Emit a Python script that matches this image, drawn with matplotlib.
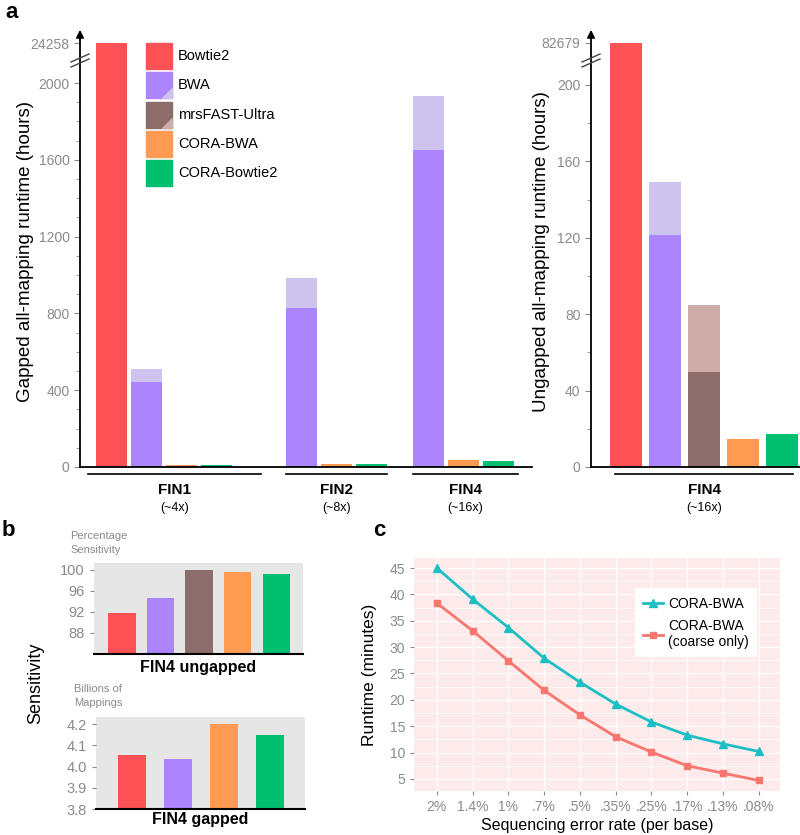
import numpy as np
import matplotlib
matplotlib.use("Agg")
import matplotlib.pyplot as plt
from matplotlib.patches import Rectangle, Polygon
from matplotlib.lines import Line2D

plt.rcParams["font.family"] = ["Liberation Sans", "DejaVu Sans"]

W, H = 800, 835
GRAY = "#8a8a8a"

# ---- data --------------------------------------------------------------
tools = ["Bowtie2", "BWA", "mrsFAST-Ultra", "CORA-BWA", "CORA-Bowtie2"]
dark = ["#FC5155", "#AC84FB", "#8C6D6B", "#FF9A52", "#00BF6F"]
light = [None, "#CDC3EE", "#CEACAA", None, None]

# panel a, gapped (hours); nan = not run
gapped_groups = ["FIN1", "FIN2", "FIN4"]
gapped_cov = ["(~4x)", "(~8x)", "(~16x)"]
gapped_bowtie2 = [24258, np.nan, np.nan]
gapped_bwa_total = [509, 982, 1935]
gapped_bwa_base = [441, 826, 1653]
gapped_cora_bwa = [10, 17, 34]
gapped_cora_bowtie2 = [12, 16, 31]

# panel a, ungapped FIN4 (hours), one value per tool
ungapped_total = [82679, 149, 85, 14.4, 17.4]
ungapped_base = [82679, 121.5, 49.5, 14.4, 17.4]

# panel b
sens_ungapped = [91.8, 94.7, 100.0, 99.6, 99.3]
sens_gapped_tools = ["Bowtie2", "BWA", "CORA-BWA", "CORA-Bowtie2"]
sens_gapped = [4.052, 4.037, 4.200, 4.148]

# panel c
error_rates = ["2%", "1.4%", "1%", ".7%", ".5%", ".35%", ".25%", ".17%", ".13%", ".08%"]
runtime_full = [45.0, 39.1, 33.7, 27.9, 23.35, 19.2, 15.8, 13.3, 11.65, 10.2]
runtime_coarse = [38.35, 33.1, 27.4, 21.8, 17.15, 13.0, 10.1, 7.5, 6.1, 4.7]


def box(x0, y0, x1, y1):
    return [x0 / W, 1 - y1 / H, (x1 - x0) / W, (y1 - y0) / H]


def px(x, y):
    return x / W, 1 - y / H


def make_break(b, pos_big, big):
    # piecewise-linear scale: values above b are squeezed
    k = (pos_big - b) / (big - b)

    def fwd(v):
        v = np.asarray(v, float)
        return np.where(v <= b, v, b + (v - b) * k)

    def inv(u):
        u = np.asarray(u, float)
        return np.where(u <= b, u, b + (u - b) / k)
    return fwd, inv


def style_runtime_axis(ax):
    for s in ["top", "right"]:
        ax.spines[s].set_visible(False)
    ax.spines["left"].set_linewidth(1.3)
    ax.spines["bottom"].set_linewidth(1.3)
    ax.tick_params(axis="x", bottom=False, labelbottom=False)
    ax.tick_params(axis="y", which="both", colors=GRAY, labelsize=10, length=4)
    ax.tick_params(axis="y", which="minor", length=3)


def axis_decor(ax, x_px, top_px):
    ax.annotate("", xy=px(x_px, top_px - 9), xytext=px(x_px, top_px + 2),
                xycoords="figure fraction",
                arrowprops=dict(arrowstyle="-|>", color="black", lw=1.3,
                                mutation_scale=11))
    for yc in (58, 63):
        x0, y0 = px(x_px - 9, yc + 4)
        x1, y1 = px(x_px + 9, yc - 4)
        fig.add_artist(Line2D([x0, x1], [y0, y1], color="#444444", lw=1.0))


fig = plt.figure(figsize=(W / 100, H / 100), dpi=100)

# ---- panel a: gapped ---------------------------------------------------
ax1 = fig.add_axes(box(80, 36, 532, 467))
f1, i1 = make_break(2120, 2208, 24258)
ax1.set_yscale("function", functions=(f1, i1))
group_start = [0, 5.43, 9.04]
series = [(0, gapped_bowtie2, None), (1, gapped_bwa_total, gapped_bwa_base),
          (3, gapped_cora_bwa, None), (4, gapped_cora_bowtie2, None)]
for g, start in enumerate(group_start):
    slot = 0
    for ti, vals, base in series:
        if np.isnan(vals[g]):
            continue
        x = start + slot
        if base is not None:
            ax1.bar(x, vals[g], 0.89, color=light[ti])
            ax1.bar(x, base[g], 0.89, color=dark[ti])
        else:
            ax1.bar(x, vals[g], 0.89, color=dark[ti])
        slot += 1
ax1.set_xlim(-0.9, 12.0)
ax1.set_ylim(0, float(i1(2245)))
ax1.set_yticks([0, 400, 800, 1200, 1600, 2000, 24258])
ax1.set_yticklabels(["0", "400", "800", "1200", "1600", "2000", "24258"])
ax1.set_yticks([v for v in range(100, 2001, 100) if v % 400], minor=True)
style_runtime_axis(ax1)
ax1.set_ylabel("Gapped all-mapping runtime (hours)", fontsize=13.5)
ax1.yaxis.set_label_coords(-0.102, 0.5)
trans = ax1.get_xaxis_transform()
line_ext = [(-0.67, 4.27), (4.99, 7.87), (8.59, 11.59)]
for (a, b), name, cov in zip(line_ext, gapped_groups, gapped_cov):
    ax1.plot([a, b], [-0.016, -0.016], transform=trans, color="black",
             lw=1.2, clip_on=False)
    c = (a + b) / 2
    ax1.text(c, -0.054, name, transform=trans, ha="center", va="center",
             fontsize=11, fontweight="bold")
    ax1.text(c, -0.096, cov, transform=trans, ha="center", va="center",
             fontsize=9)
axis_decor(ax1, 80, 36)

# legend of panel a
for i, (name, col) in enumerate(zip(tools, dark)):
    top = 43 + i * 29.3
    x0, y0 = px(146, top + 26)
    fig.add_artist(Rectangle((x0, y0), 26 / W, 26 / H, color=col,
                             transform=fig.transFigure))
    if light[i]:
        pts = [px(172, top + 16), px(172, top + 26), px(162, top + 26)]
        fig.add_artist(Polygon(pts, closed=True, color=light[i],
                               transform=fig.transFigure))
    fig.text(*px(178, top + 13), name, fontsize=10.5, va="center", ha="left")

# ---- panel a: ungapped -------------------------------------------------
ax2 = fig.add_axes(box(591, 36, 800, 467))
f2, i2 = make_break(211, 222, 82679)
ax2.set_yscale("function", functions=(f2, i2))
xu = np.arange(len(tools))
ax2.bar(xu, ungapped_total, 0.83,
        color=[l if l else d for l, d in zip(light, dark)])
ax2.bar(xu, ungapped_base, 0.83, color=dark)
ax2.set_xlim(-0.9, 4.46)
ax2.set_ylim(0, float(i2(225.6)))
ax2.set_yticks([0, 40, 80, 120, 160, 200, 82679])
ax2.set_yticklabels(["0", "40", "80", "120", "160", "200", "82679"])
ax2.set_yticks([20, 60, 100, 140, 180], minor=True)
style_runtime_axis(ax2)
ax2.set_ylabel("Ungapped all-mapping runtime (hours)", fontsize=13.5)
ax2.yaxis.set_label_coords(-0.196, 0.5)
t2 = ax2.get_xaxis_transform()
ax2.plot([-0.28, 4.28], [-0.016, -0.016], transform=t2, color="black",
         lw=1.2, clip_on=False)
ax2.text(2.0, -0.054, "FIN4", transform=t2, ha="center", va="center",
         fontsize=11, fontweight="bold")
ax2.text(2.0, -0.096, "(~16x)", transform=t2, ha="center", va="center",
         fontsize=9)
axis_decor(ax2, 591, 36)


# ---- panel b -----------------------------------------------------------
def style_b(ax):
    ax.set_facecolor("#E6E6E6")
    for s in ["top", "right", "left"]:
        ax.spines[s].set_visible(False)
    ax.spines["bottom"].set_linewidth(1.5)
    ax.tick_params(axis="x", bottom=False, labelbottom=False)
    ax.tick_params(axis="y", colors=GRAY, labelsize=10.5, length=3)


axb1 = fig.add_axes(box(94, 563, 303, 654))
axb1.bar(np.arange(len(tools)), sens_ungapped, 0.71, color=dark)
axb1.set_xlim(-0.725, 4.69)
axb1.set_ylim(84, 101.3)
axb1.set_yticks([88, 92, 96, 100])
style_b(axb1)
axb1.set_xlabel("FIN4 ungapped", fontsize=11.5, fontweight="bold", labelpad=4)

axb2 = fig.add_axes(box(96, 717, 305, 809))
gcols = [dark[tools.index(t)] for t in sens_gapped_tools]
axb2.bar(np.arange(len(sens_gapped_tools)), sens_gapped, 0.61, color=gcols)
axb2.set_xlim(-0.78, 3.76)
axb2.set_ylim(3.8, 4.233)
axb2.set_yticks([3.8, 3.9, 4.0, 4.1, 4.2])
axb2.set_yticklabels(["3.8", "3.9", "4.0", "4.1", "4.2"])
style_b(axb2)
axb2.set_xlabel("FIN4 gapped", fontsize=11.5, fontweight="bold", labelpad=2)

fig.text(*px(70, 543), "Percentage\nSensitivity", fontsize=8, color=GRAY,
         ha="left", va="center", linespacing=1.5)
fig.text(*px(74, 696), "Billions of\nMappings", fontsize=8, color=GRAY,
         ha="left", va="center", linespacing=1.5)
fig.text(*px(36, 683), "Sensitivity", fontsize=13, rotation=90,
         ha="center", va="center")

# ---- panel c -----------------------------------------------------------
axc = fig.add_axes(box(414, 558, 780, 791))
axc.set_facecolor("#FDEBEB")
xc = np.arange(len(error_rates))
axc.plot(xc, runtime_full, color="#1DBFC4", lw=2, marker="^", ms=6,
         label="CORA-BWA")
axc.plot(xc, runtime_coarse, color="#F8766D", lw=2, marker="s", ms=4.5,
         label="CORA-BWA\n(coarse only)")
axc.set_xlim(-0.64, 9.6)
axc.set_ylim(2.7, 46.9)
axc.set_xticks(xc)
axc.set_xticklabels(error_rates)
axc.set_yticks([5, 10, 15, 20, 25, 30, 35, 40, 45])
axc.set_yticks(np.arange(7.5, 45, 5), minor=True)
axc.grid(True, which="major", color="white", lw=0.9)
axc.grid(True, which="minor", axis="y", color="white", lw=0.5)
axc.set_axisbelow(True)
for s in axc.spines.values():
    s.set_visible(False)
axc.tick_params(colors=GRAY, labelsize=10, length=3)
axc.tick_params(which="minor", length=0)
axc.set_xlabel("Sequencing error rate (per base)", fontsize=11.5, labelpad=3)
axc.set_ylabel("Runtime (minutes)", fontsize=12.5, labelpad=9)
leg = axc.legend(loc="upper left", bbox_to_anchor=(0.585, 0.9), fontsize=10,
                 frameon=True, facecolor="white", edgecolor="none",
                 framealpha=1, fancybox=False, handlelength=1.4,
                 handletextpad=0.4, labelspacing=0.6, borderpad=0.6)

# panel letters
fig.text(*px(12, 13), "a", fontsize=16, fontweight="bold", ha="center", va="center")
fig.text(*px(8, 530), "b", fontsize=16, fontweight="bold", ha="center", va="center")
fig.text(*px(379, 530), "c", fontsize=16, fontweight="bold", ha="center", va="center")

fig.savefig("out.png", dpi=100)
